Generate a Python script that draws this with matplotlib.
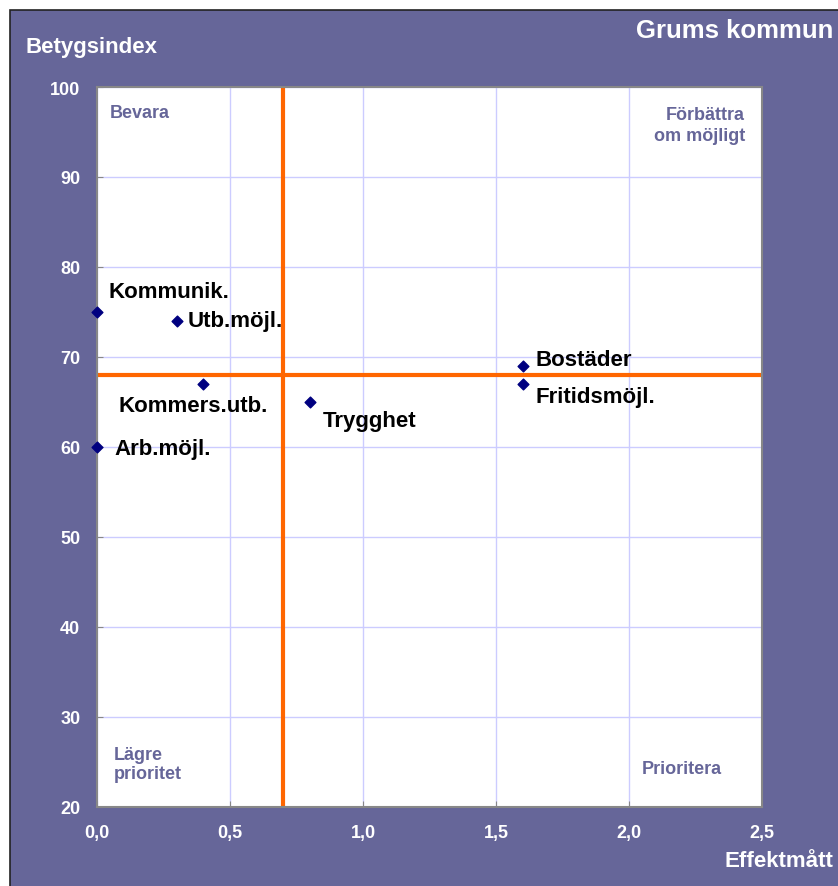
import matplotlib.pyplot as plt
from matplotlib.patches import Rectangle
from matplotlib.ticker import FuncFormatter

plt.rcParams['font.family'] = ['Liberation Sans', 'DejaVu Sans']
plt.rcParams['font.weight'] = 'bold'

# data
labels = ['Kommunik.', 'Utb.möjl.', 'Kommers.utb.', 'Arb.möjl.', 'Trygghet', 'Bostäder', 'Fritidsmöjl.']
effekt = [0.0, 0.3, 0.4, 0.0, 0.8, 1.6, 1.6]
betyg = [75, 74, 67, 60, 65, 69, 67]
x_split = 0.7
y_split = 68

# label offsets in pixels
offsets = [(11, 20), (11, 0), (-85, -22), (17, -2), (13, -19), (13, 7), (13, -12)]

purple = '#666699'
fig = plt.figure(figsize=(8.38, 8.87), dpi=100)
fig.patch.set_facecolor('white')
fig.patches.append(Rectangle((10 / 838, -0.01), 1.0, 1 - 11 / 887 + 0.01, transform=fig.transFigure,
                             facecolor=purple, edgecolor='#222222', linewidth=1.2, zorder=-5))

ax = fig.add_axes([97 / 838, 79 / 887, 665 / 838, 720 / 887])
ax.set_facecolor('white')
ax.set_xlim(0, 2.5)
ax.set_ylim(20, 100)
ax.set_xticks([0, 0.5, 1.0, 1.5, 2.0, 2.5])
ax.set_yticks(range(20, 101, 10))
ax.xaxis.set_major_formatter(FuncFormatter(lambda v, p: f'{v:.1f}'.replace('.', ',')))
ax.grid(True, color='#ccccff', linewidth=1)
ax.set_axisbelow(True)
for s in ax.spines.values():
    s.set_color('#888888')
    s.set_linewidth(1.5)
ax.tick_params(direction='in', length=4, color='#888888', labelcolor='white', labelsize=13, pad=12)

ax.axvline(x_split, color='#ff6600', linewidth=3)
ax.axhline(y_split, color='#ff6600', linewidth=3)

ax.scatter(effekt, betyg, marker='D', s=30, color='#000080', zorder=5, clip_on=False)
for lab, x, y, (dx, dy) in zip(labels, effekt, betyg, offsets):
    ax.annotate(lab, (x, y), xytext=(dx, dy), textcoords='offset pixels',
                fontsize=16, fontweight='bold', color='black', va='center', ha='left')

qkw = dict(fontsize=13, fontweight='bold', color=purple, transform=ax.transAxes)
ax.text(13 / 665, 1 - 26 / 720, 'Bevara', va='center', ha='left', **qkw)
ax.text(648 / 665, 1 - 38 / 720, 'Förbättra\nom möjligt', va='center', ha='right', linespacing=1.3, **qkw)
ax.text(17 / 665, 43 / 720, 'Lägre\nprioritet', va='center', ha='left', linespacing=1.2, **qkw)
ax.text(545 / 665, 38 / 720, 'Prioritera', va='center', ha='left', **qkw)

fig.text(25 / 838, 1 - 47 / 887, 'Betygsindex', color='white', fontsize=16, fontweight='bold', va='center', ha='left')
fig.text(833 / 838, 1 - 31 / 887, 'Grums kommun', color='white', fontsize=18.5, fontweight='bold', va='center', ha='right')
fig.text(833 / 838, 1 - 862 / 887, 'Effektmått', color='white', fontsize=16, fontweight='bold', va='center', ha='right')

fig.savefig('out.png', dpi=100)
